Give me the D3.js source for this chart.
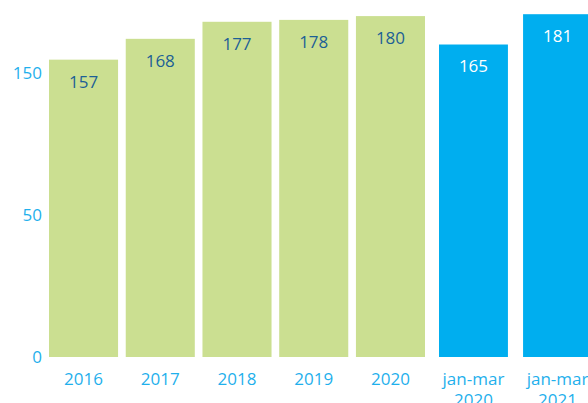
<!DOCTYPE html>
<html>
<head>
  <meta charset="utf-8">
  <title>bars</title>
  <script src="https://cdn.jsdelivr.net/npm/d3@7"></script>
  <style>
    body { margin: 0; background: #fff; }
    text { font-family: "Open Sans", "Liberation Sans", sans-serif; }
  </style>
</head>
<body>
<div id="chart"></div>
<script>
// yearly values (green) and first-quarter values (blue)
var years = ["2016", "2017", "2018", "2019", "2020"];
var yearValues = [157, 168, 177, 178, 180];
var quarters = ["jan-mar 2020", "jan-mar 2021"];
var quarterValues = [165, 181];
var yTickValues = [0, 75, 150];
var yTickLabels = ["0", "50", "150"];

var width = 588, height = 403;

var svg = d3.select("#chart")
  .append("svg")
    .attr("width", width)
    .attr("height", height);

var y = d3.scaleLinear()
  .domain([0, 188.5])
  .range([357, 0]);

var xYears = d3.scaleBand()
  .domain(years)
  .range([49, 425])
  .paddingInner(0.1);

var xQuarters = d3.scaleBand()
  .domain(quarters)
  .range([439, 592])
  .paddingInner(0.18);

// y axis, labels only
var yAxis = svg.append("g")
  .attr("transform", "translate(42,0)")
  .call(d3.axisLeft(y)
    .tickValues(yTickValues)
    .tickFormat(function(d, i) { return yTickLabels[i]; })
    .tickSize(0)
    .tickPadding(0));
yAxis.select(".domain").remove();
yAxis.selectAll("text")
  .attr("fill", "#1fb0ec")
  .style("font-size", "17px");

function drawGroup(scale, cats, vals, fill, labelFill) {
  var data = cats.map(function(c, i) { return {cat: c, value: vals[i]}; });
  svg.selectAll(null)
    .data(data)
    .enter()
    .append("rect")
      .attr("x", function(d) { return scale(d.cat); })
      .attr("y", function(d) { return y(d.value); })
      .attr("width", scale.bandwidth())
      .attr("height", function(d) { return y(0) - y(d.value); })
      .attr("fill", fill);

  svg.selectAll(null)
    .data(data)
    .enter()
    .append("text")
      .attr("x", function(d) { return scale(d.cat) + scale.bandwidth() / 2; })
      .attr("y", function(d) { return y(d.value) + 22; })
      .attr("dy", "0.35em")
      .attr("text-anchor", "middle")
      .attr("fill", labelFill)
      .style("font-size", "17px")
      .text(function(d) { return d.value; });

  var axis = svg.append("g")
    .attr("transform", "translate(0,357)")
    .call(d3.axisBottom(scale).tickSize(0).tickPadding(0));
  axis.select(".domain").remove();
  axis.selectAll("text").remove();
  axis.selectAll(".tick").each(function(d) {
    var t = d3.select(this).append("text")
      .attr("text-anchor", "middle")
      .attr("fill", "#1fb0ec")
      .style("font-size", "17px");
    var parts = d.split(" ");
    parts.forEach(function(p, i) {
      t.append("tspan")
        .attr("x", 0)
        .attr("y", 22 + i * 21)
        .attr("dy", "0.35em")
        .text(p);
    });
  });
}

drawGroup(xYears, years, yearValues, "#cbdf91", "#1d5f96");
drawGroup(xQuarters, quarters, quarterValues, "#00aeef", "#ffffff");
</script>
</body>
</html>
